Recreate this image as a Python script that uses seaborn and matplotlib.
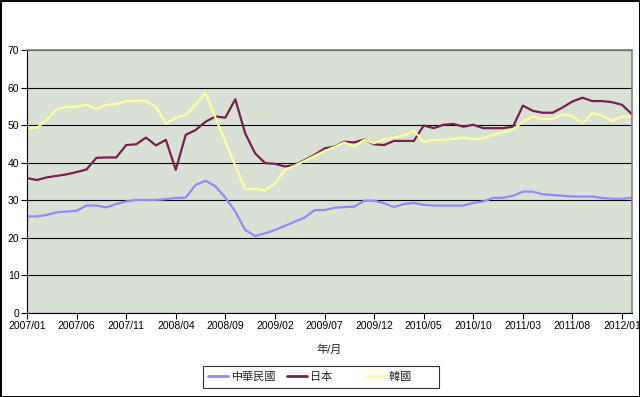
import matplotlib
matplotlib.use("Agg")
import matplotlib.pyplot as plt
import numpy as np
import pandas as pd
import seaborn as sns

# monthly, 2007/01 .. 2012/02
months = pd.date_range("2007-01-01", periods=62, freq="MS")

taiwan = [25.7, 25.7, 26.1, 26.8, 27.0, 27.2, 28.6, 28.6, 28.1, 29.0,
          29.7, 30.1, 30.1, 30.1, 30.3, 30.6, 30.7, 34.1, 35.2, 33.7,
          30.7, 27.0, 22.1, 20.5, 21.2, 22.1, 23.2, 24.3, 25.4, 27.4,
          27.4, 28.0, 28.2, 28.3, 29.9, 29.9, 29.2, 28.2, 29.0, 29.3,
          28.8, 28.6, 28.6, 28.6, 28.6, 29.3, 29.7, 30.6, 30.7, 31.2,
          32.3, 32.3, 31.6, 31.4, 31.2, 31.0, 31.0, 31.0, 30.6, 30.4,
          30.4, 30.7]
japan = [35.9, 35.4, 36.1, 36.5, 36.9, 37.5, 38.2, 41.3, 41.4, 41.4,
         44.7, 44.9, 46.7, 44.6, 46.1, 38.1, 47.4, 48.7, 50.9, 52.3,
         52.0, 56.9, 47.8, 42.5, 39.9, 39.7, 39.0, 39.4, 40.7, 42.1,
         43.8, 44.3, 45.6, 45.4, 46.2, 44.9, 44.7, 45.8, 45.8, 45.8,
         49.9, 49.2, 50.1, 50.3, 49.6, 50.1, 49.2, 49.2, 49.2, 49.6,
         55.2, 53.8, 53.3, 53.3, 54.7, 56.3, 57.3, 56.4, 56.4, 56.1,
         55.4, 52.9]
korea = [49.3, 49.3, 51.4, 54.2, 54.9, 54.9, 55.4, 54.3, 55.4, 55.6,
         56.4, 56.5, 56.4, 54.9, 50.3, 52.0, 52.7, 55.4, 58.5, 52.0,
         45.6, 39.2, 33.0, 33.0, 32.6, 34.5, 38.1, 39.2, 40.5, 41.8,
         43.1, 44.2, 45.4, 44.3, 46.1, 45.2, 46.2, 46.7, 47.2, 48.5,
         45.6, 46.1, 46.1, 46.3, 46.7, 46.2, 46.5, 47.4, 48.1, 48.9,
         50.9, 52.3, 51.6, 51.6, 52.9, 52.4, 50.5, 53.2, 52.5, 51.1,
         52.3, 52.3]

series = ["中華民國", "日本", "韓國"]
colors = ["#8c8cff", "#7a1f52", "#ffff99"]
tick_labels = ["2007/01", "2007/06", "2007/11", "2008/04", "2008/09",
               "2009/02", "2009/07", "2009/12", "2010/05", "2010/10",
               "2011/03", "2011/08", "2012/01"]

df = pd.DataFrame({
    "month": np.tile(np.arange(len(months)), 3),
    "value": taiwan + japan + korea,
    "country": np.repeat(series, len(months)),
})

sns.set_style("white")
plt.rcParams["font.family"] = ["Liberation Sans", "Noto Sans CJK TC", "DejaVu Sans"]

fig = plt.figure(figsize=(6.4, 3.97), dpi=100)
fig.patch.set_facecolor("white")
fig.patch.set_edgecolor("black")
fig.patch.set_linewidth(2)
ax = fig.add_axes([27 / 640, 1 - 313 / 397, 605 / 640, 263 / 397])
ax.set_facecolor("#d9e1d4")

sns.lineplot(data=df, x="month", y="value", hue="country", palette=colors,
             linewidth=1.6, ax=ax, legend=True)

ax.set_ylim(0, 70)
ax.set_xlim(0, len(months) - 1)
ax.set_yticks(range(0, 71, 10))
ax.set_xticks(range(0, 61, 5))
ax.set_xticklabels(tick_labels)
ax.yaxis.grid(True, color="black", linewidth=0.8)
ax.set_axisbelow(True)
ax.tick_params(axis="both", direction="out", length=4, width=0.8,
               color="black", labelsize=7.5, pad=1.5, labelcolor="black")
ax.tick_params(axis="x", bottom=True)
ax.tick_params(axis="y", left=True)
for s in ["left", "bottom"]:
    ax.spines[s].set_color("black")
    ax.spines[s].set_linewidth(0.8)
for s in ["top", "right"]:
    ax.spines[s].set_color("#808080")
    ax.spines[s].set_linewidth(1.2)

ax.set_ylabel("")
ax.set_xlabel("年/月", fontsize=8, labelpad=10)

# equal-width legend columns, like the original
handles, labels = ax.get_legend_handles_labels()
labels = [lab.ljust(4, "\u3000") for lab in labels]
leg = ax.legend(handles, labels, loc="center",
                bbox_to_anchor=(321 / 640, 1 - 377 / 397),
                bbox_transform=fig.transFigure, ncol=3, frameon=True,
                fancybox=False, edgecolor="black", fontsize=8,
                handlelength=1.8, handletextpad=0.3, columnspacing=1.0,
                borderpad=0.5)
leg.get_frame().set_linewidth(0.8)
for line in leg.get_lines():
    line.set_linewidth(2)

fig.savefig("out.png", dpi=100, facecolor=fig.get_facecolor(),
            edgecolor=fig.get_edgecolor())
